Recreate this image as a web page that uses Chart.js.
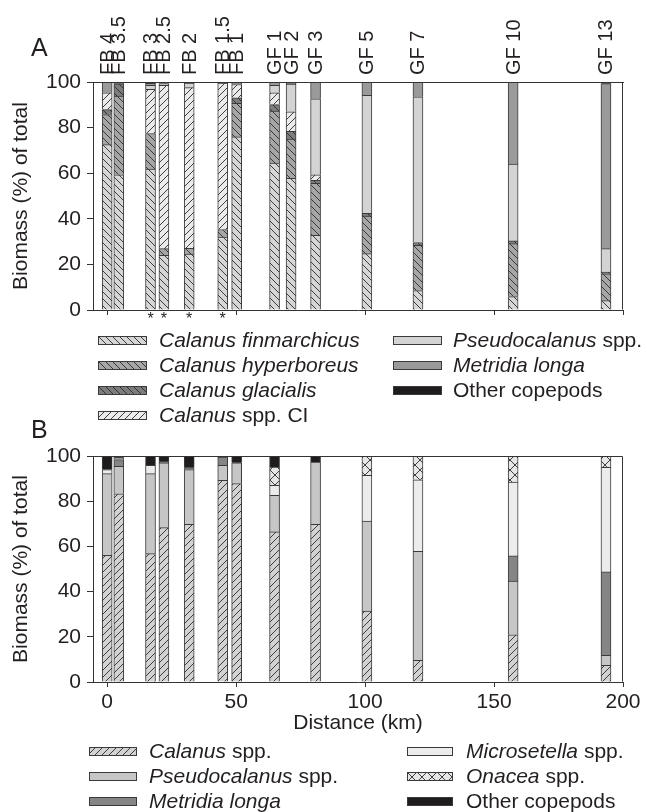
<!DOCTYPE html>
<html>
<head>
<meta charset="utf-8">
<script src="https://cdn.jsdelivr.net/npm/chart.js@4.4.1/dist/chart.umd.min.js"></script>
<style>
  body { margin: 0; background: #fff; }
  #wrap { position: relative; width: 647px; height: 812px; font-family: "Liberation Sans", Arial, sans-serif; color: #231f20; }
  #wrap canvas.chart { position: absolute; left: 0; }
  .panel { position: absolute; font-size: 25px; line-height: 25px; }
  .sw { position: absolute; }
  .lt { position: absolute; font-size: 21px; line-height: 24px; white-space: nowrap; }
</style>
</head>
<body>
<div id="wrap">
  <canvas id="chartA" class="chart" width="647" height="330" style="top:0"></canvas>
  <canvas id="chartB" class="chart" width="647" height="315" style="top:430px"></canvas>
  <div class="panel" style="left:31px;top:35px">A</div>
  <div class="panel" style="left:31px;top:417px">B</div>
  <div id="legA"></div>
  <div id="legB"></div>
</div>
<script>
// stations along the transect (km) + names shown on top of panel A
const stationKm = [0, 4.5, 16.8, 22, 31.8, 44.8, 50.2, 64.9, 71.3, 80.8, 100.7, 120.5, 157.4, 193.4];
const stationNames = ['FB 4', 'FB 3.5', 'FB 3', 'FB 2.5', 'FB 2', 'FB 1.5', 'FB 1', 'GF 1', 'GF 2', 'GF 3', 'GF 5', 'GF 7', 'GF 10', 'GF 13'];
const starred = ['FB 3', 'FB 2.5', 'FB 2', 'FB 1.5'];
const xTicks = [0, 50, 100, 150, 200];

// panel A - biomass (% of total)
const aFinmarchicus = [72.5, 59.3, 61.8, 24, 24.5, 32, 75.9, 64.4, 57.8, 32.8, 24.7, 8.5, 5.9, 4.1];
const aHyperboreus = [13.2, 34.5, 15.6, 2.9, 2.5, 3.3, 14.7, 22.8, 17.2, 22.8, 16.5, 19.9, 23.2, 11.8];
const aGlacialis = [2.2, 5.4, 0, 0, 0, 0, 2.5, 2.9, 3.4, 1.3, 1.2, 1.2, 1.2, 0.7];
const aCalanusCI = [7.4, 0, 19.4, 71.6, 70.5, 64.2, 5.8, 5.2, 8.5, 2.4, 0, 0, 0, 0];
const aPseudocalanus = [0, 0, 1.7, 0.8, 2, 0.5, 0.6, 3.2, 12.2, 33.3, 51.7, 63.9, 33.7, 10.3];
const aMetridia = [4.7, 0.3, 0.9, 0.7, 0.5, 0, 0.5, 1.5, 0.5, 7.4, 5.9, 6.5, 36, 72.4];
const aOther = [0, 0.5, 0.6, 0, 0, 0, 0, 0, 0.4, 0, 0, 0, 0, 0.7];

// panel B - biomass (% of total), GF 2 not sampled
const bCalanus = [56, 83.3, 56.8, 68.3, 69.8, 89.2, 87.8, 66.4, null, 69.8, 31.4, 9.6, 20.9, 7.4];
const bPseudocalanus = [36.2, 12.1, 35.4, 28.7, 24.2, 6.7, 9.2, 16.2, null, 27.5, 39.8, 48.2, 23.8, 4.4];
const bMetridia = [0, 3, 0, 0.5, 0.8, 3.6, 0, 0, null, 0, 0, 0, 11.1, 36.9];
const bMicrosetella = [1.8, 0.8, 3.7, 0, 0, 0, 0, 4.4, null, 0, 20.2, 31.7, 32.7, 46.3];
const bOnacea = [0, 0, 0, 0, 0, 0, 0, 8.1, null, 0, 8.6, 10.5, 11.5, 5];
const bOther = [6, 0.8, 4.1, 2.5, 5.2, 0.5, 3, 4.9, null, 2.7, 0, 0, 0, 0];

const ink = '#231f20';
const xMin = -5.5, xMax = 200;

Chart.defaults.font.family = '"Liberation Sans", Arial, sans-serif';
Chart.defaults.font.size = 21;
Chart.defaults.color = ink;

// hatch fill: 'back' = \\\, 'fwd' = ///, 'cross' = xxx
function hatch(bg, kind) {
    if (!kind) return bg;
    const s = kind === 'cross' ? 10 : 7;
    const c = document.createElement('canvas');
    c.width = s; c.height = s;
    const g = c.getContext('2d');
    g.fillStyle = bg;
    g.fillRect(0, 0, s, s);
    g.strokeStyle = '#2b2b2b';
    g.lineWidth = 0.9;
    g.beginPath();
    for (let k = -1; k <= 1; k++) {
        if (kind !== 'fwd') { g.moveTo(k * s, 0); g.lineTo(k * s + s, s); }
        if (kind !== 'back') { g.moveTo(k * s, s); g.lineTo(k * s + s, 0); }
    }
    g.stroke();
    return g.createPattern(c, 'repeat');
}

// [italic part, plain part]
const seriesA = [
    { name: ['Calanus finmarchicus', ''], data: aFinmarchicus, fill: hatch('#d6d6d6', 'back') },
    { name: ['Calanus hyperboreus', ''], data: aHyperboreus, fill: hatch('#a6a6a6', 'back') },
    { name: ['Calanus glacialis', ''], data: aGlacialis, fill: hatch('#7d7d7d', 'back') },
    { name: ['Calanus', ' spp. CI'], data: aCalanusCI, fill: hatch('#ebebeb', 'fwd') },
    { name: ['Pseudocalanus', ' spp.'], data: aPseudocalanus, fill: '#d3d3d3' },
    { name: ['Metridia longa', ''], data: aMetridia, fill: '#9a9a9a' },
    { name: ['', 'Other copepods'], data: aOther, fill: '#1e1c1d' }
];
const seriesB = [
    { name: ['Calanus', ' spp.'], data: bCalanus, fill: hatch('#d2d2d2', 'fwd') },
    { name: ['Pseudocalanus', ' spp.'], data: bPseudocalanus, fill: '#c6c6c6' },
    { name: ['Metridia longa', ''], data: bMetridia, fill: '#858585' },
    { name: ['Microsetella', ' spp.'], data: bMicrosetella, fill: '#ececec' },
    { name: ['Onacea', ' spp.'], data: bOnacea, fill: hatch('#e6e6e6', 'cross') },
    { name: ['', 'Other copepods'], data: bOther, fill: '#1e1c1d' }
];

function toDatasets(series) {
    return series.map(s => ({
        label: s.name.join(''),
        data: stationKm.map((x, i) => ({ x, y: s.data[i] })).filter(p => p.y),
        backgroundColor: s.fill,
        borderColor: '#3a3a3a',
        borderWidth: 1,
        barThickness: 10,
        xAxisID: 'x'
    }));
}

// box round the plot area
const frame = {
    id: 'frame',
    afterDatasetsDraw(chart) {
        const { ctx, chartArea: a } = chart;
        ctx.save();
        ctx.strokeStyle = '#333';
        ctx.lineWidth = 1;
        ctx.beginPath();
        ctx.moveTo(Math.round(a.left) + 0.5, Math.round(a.top) + 0.5);
        ctx.lineTo(Math.round(a.right) - 0.5, Math.round(a.top) + 0.5);
        ctx.lineTo(Math.round(a.right) - 0.5, Math.round(a.bottom) - 0.5);
        ctx.stroke();
        ctx.restore();
    }
};

// asterisks under some stations in panel A
const stars = {
    id: 'stars',
    afterDraw(chart) {
        const { ctx, chartArea } = chart;
        const xs = chart.scales.x;
        ctx.save();
        ctx.font = '16px "Liberation Sans", Arial, sans-serif';
        ctx.fillStyle = ink;
        ctx.textAlign = 'center';
        ctx.textBaseline = 'top';
        starred.forEach(n => {
            const i = stationNames.indexOf(n);
            ctx.fillText('*', xs.getPixelForValue(stationKm[i]), chartArea.bottom + 2);
        });
        ctx.restore();
    }
};

function yScale() {
    return {
        stacked: true, min: 0, max: 100,
        ticks: { stepSize: 20, padding: 6 },
        grid: { drawOnChartArea: false, tickLength: 6, color: '#333' },
        border: { color: '#333' },
        title: { display: true, text: 'Biomass (%) of total', padding: { top: 9, bottom: 0 } },
        afterFit: s => { s.width = 93; }
    };
}

new Chart(document.getElementById('chartA'), {
    type: 'bar',
    data: { datasets: toDatasets(seriesA) },
    options: {
        responsive: false, animation: false,
        layout: { padding: { left: 0, right: 24, top: 0, bottom: 0 } },
        plugins: { legend: { display: false }, tooltip: { enabled: false } },
        scales: {
            x: {
                type: 'linear', position: 'bottom', min: xMin, max: xMax, stacked: true, offset: false,
                afterBuildTicks: s => { s.ticks = xTicks.map(v => ({ value: v })); },
                ticks: { display: false },
                grid: { drawOnChartArea: false, offset: false, tickLength: 5, color: '#333' },
                border: { color: '#333' },
                afterFit: s => { s.height = 20; }
            },
            top: {
                type: 'linear', position: 'top', min: xMin, max: xMax, offset: false,
                afterBuildTicks: s => { s.ticks = stationKm.map(v => ({ value: v })); },
                ticks: { autoSkip: false, minRotation: 90, maxRotation: 90, padding: 7, labelOffset: 25,
                         font: { size: 20 }, callback: (v, i) => stationNames[i] },
                grid: { display: false, drawTicks: false, offset: false },
                border: { color: '#333' },
                afterFit: s => { s.height = 82; }
            },
            y: yScale()
        }
    },
    plugins: [frame, stars]
});

new Chart(document.getElementById('chartB'), {
    type: 'bar',
    data: { datasets: toDatasets(seriesB) },
    options: {
        responsive: false, animation: false,
        layout: { padding: { left: 0, right: 24, top: 26, bottom: 0 } },
        plugins: { legend: { display: false }, tooltip: { enabled: false } },
        scales: {
            x: {
                type: 'linear', position: 'bottom', min: xMin, max: xMax, stacked: true, offset: false,
                afterBuildTicks: s => { s.ticks = xTicks.map(v => ({ value: v })); },
                ticks: { padding: 3, maxRotation: 0 },
                grid: { drawOnChartArea: false, offset: false, tickLength: 5, color: '#333' },
                border: { color: '#333' },
                title: { display: true, text: 'Distance (km)', padding: { top: 0, bottom: 9 } },
                afterFit: s => { s.height = 63; }
            },
            y: yScale()
        }
    },
    plugins: [frame]
});

// html legends with hatched swatches
function legend(el, series, cols, rows) {
    const box = document.getElementById(el);
    series.forEach((s, i) => {
        const col = cols[i < rows.length ? 0 : 1];
        const yc = rows[i % rows.length];
        const sw = document.createElement('canvas');
        sw.className = 'sw';
        sw.width = col.w; sw.height = 9;
        sw.style.left = col.sx + 'px';
        sw.style.top = (yc - 4.5) + 'px';
        const g = sw.getContext('2d');
        g.fillStyle = s.fill;
        g.fillRect(0, 0, col.w, 9);
        g.strokeStyle = '#3a3a3a';
        g.strokeRect(0.5, 0.5, col.w - 1, 8);
        box.appendChild(sw);

        const t = document.createElement('div');
        t.className = 'lt';
        t.style.left = col.tx + 'px';
        t.style.top = (yc - 12) + 'px';
        t.innerHTML = (s.name[0] ? '<i>' + s.name[0] + '</i>' : '') + s.name[1];
        box.appendChild(t);
    });
}

legend('legA', seriesA, [{ sx: 98, tx: 159, w: 49 }, { sx: 393, tx: 453, w: 49 }], [340, 365, 390, 415]);
legend('legB', seriesB, [{ sx: 89, tx: 149, w: 48 }, { sx: 407, tx: 466, w: 46 }], [751, 776, 801]);
</script>
</body>
</html>
